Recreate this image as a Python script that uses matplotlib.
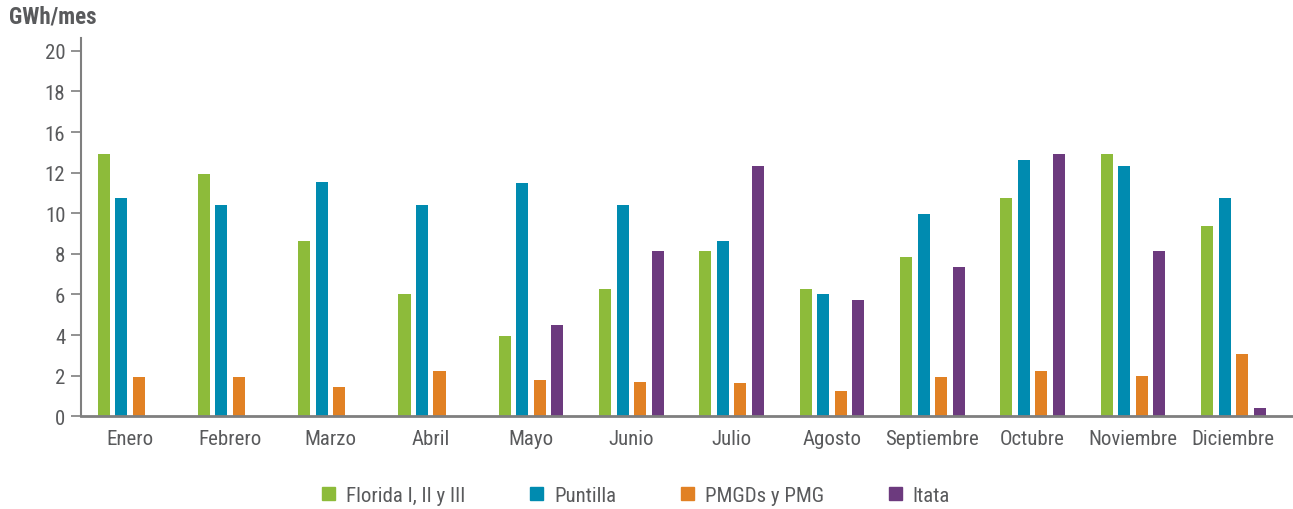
import matplotlib
matplotlib.use("Agg")
import matplotlib.pyplot as plt
import matplotlib.patches as mpatches
import numpy as np

plt.rcParams['font.family'] = ['Roboto Condensed', 'DejaVu Sans']

# Data (GWh/mes)
months = ["Enero", "Febrero", "Marzo", "Abril", "Mayo", "Junio", "Julio",
          "Agosto", "Septiembre", "Octubre", "Noviembre", "Diciembre"]
florida = [12.9, 11.95, 8.65, 6.0, 3.95, 6.25, 8.15, 6.25, 7.85, 10.75, 12.9, 9.35]
puntilla = [10.75, 10.4, 11.55, 10.4, 11.5, 10.4, 8.65, 6.0, 9.95, 12.6, 12.35, 10.75]
pmgd = [1.95, 1.95, 1.45, 2.25, 1.8, 1.7, 1.65, 1.25, 1.95, 2.25, 2.0, 3.05]
itata = [0, 0, 0, 0, 4.5, 8.15, 12.35, 5.75, 7.35, 12.9, 8.15, 0.4]
series_names = ["Florida I, II y III", "Puntilla", "PMGDs y PMG", "Itata"]
colors = ["#8dbb3a", "#008bb0", "#e18124", "#6c3a7e"]

# Y tick labels as printed on the original chart
ytick_pos = [0, 2, 4, 6, 8, 10, 12, 14, 16, 18]
ytick_labels = ["0", "2", "4", "6", "8", "10", "12", "16", "18", "20"]

text_color = "#595a5c"
axis_color = "#7f7f7f"

fig = plt.figure(figsize=(12.93, 5.10), dpi=100)
ax = fig.add_axes([0.0624, 0.1818, 0.9376, 0.7417])

x = np.arange(len(months))
width = 0.12
offsets = [-0.262, -0.087, 0.087, 0.262]
all_series = [florida, puntilla, pmgd, itata]
for vals, off, col in zip(all_series, offsets, colors):
    ax.bar(x + off, vals, width=width, color=col, linewidth=0)

ax.set_xlim(-0.49, 11.595)
ax.set_ylim(0, 18.63)

ax.set_yticks(ytick_pos)
ax.set_yticklabels(ytick_labels)
ax.set_xticks(x)
ax.set_xticklabels(months)

ax.tick_params(axis='y', direction='out', length=7, width=1.2, color=axis_color,
               labelsize=15, labelcolor=text_color, pad=4)
ax.tick_params(axis='x', length=0, labelsize=15, labelcolor=text_color, pad=9)

for side in ["top", "right"]:
    ax.spines[side].set_visible(False)
ax.spines["left"].set_color(axis_color)
ax.spines["left"].set_linewidth(1.5)
ax.spines["bottom"].set_color(axis_color)
ax.spines["bottom"].set_linewidth(2)

fig.text(0.007, 0.967, "GWh/mes", fontsize=16.5, fontweight="bold",
         color=text_color, ha="left", va="center")

handles = [mpatches.Patch(color=c, label=n) for c, n in zip(colors, series_names)]
fig.legend(handles=handles, loc="center left", bbox_to_anchor=(0.249, 0.027),
           ncol=4, frameon=False, fontsize=15, labelcolor=text_color,
           handlelength=0.625, handleheight=0.625, handletextpad=0.53,
           columnspacing=3.1, borderaxespad=0, borderpad=0)

fig.savefig("out.png", dpi=100)
